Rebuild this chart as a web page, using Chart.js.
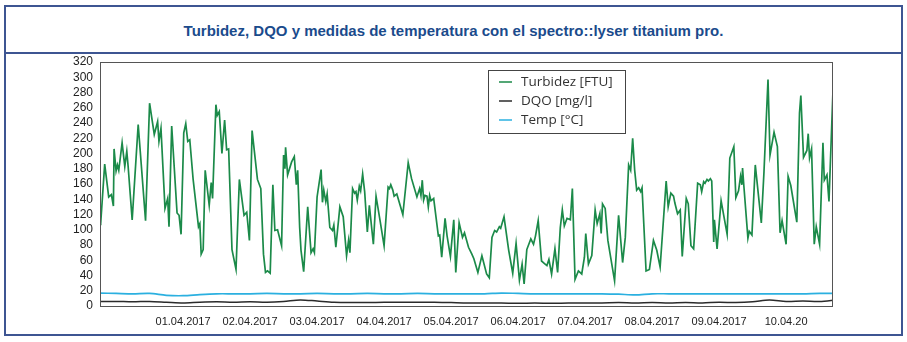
<!DOCTYPE html>
<html>
<head>
<meta charset="utf-8">
<script src="https://cdn.jsdelivr.net/npm/chart.js@4/dist/chart.umd.min.js"></script>
<style>
  body { margin: 0; background: #fff; }
  #wrap { position: relative; width: 907px; height: 342px; }
  #frame { position: absolute; left: 4px; top: 5px; width: 895px; height: 327px; border: 2px solid #3d5592; }
  #sep { position: absolute; left: 4px; top: 52px; width: 899px; height: 2px; background: #3d5592; }
  #title { position: absolute; left: 0; top: 22px; width: 907px; text-align: center;
    font: bold 15px "Liberation Sans Narrow", "Liberation Sans", Arial, sans-serif; color: #1b4b8c; }
  canvas { position: absolute; left: 0; top: 0; }
</style>
</head>
<body>
<div id="wrap">
  <div id="frame"></div>
  <div id="sep"></div>
  <div id="title">Turbidez, DQO y medidas de temperatura con el spectro::lyser titanium pro.</div>
  <canvas id="c" width="907" height="342"></canvas>
</div>
<script>
// x values are days relative to 31.03.2017 00:00
const dayTicks = [1, 2, 3, 4, 5, 6, 7, 8, 9, 10];
const dayLabels = ['01.04.2017', '02.04.2017', '03.04.2017', '04.04.2017', '05.04.2017',
  '06.04.2017', '07.04.2017', '08.04.2017', '09.04.2017', '10.04.20'];

const turbX = [-0.24, -0.23, -0.17, -0.11, -0.07, -0.04, -0.03, 0.00, 0.02, 0.04, 0.09, 0.13, 0.16, 0.18, 0.24,
  0.33, 0.44, 0.50, 0.57, 0.62, 0.64, 0.67, 0.73, 0.77, 0.79, 0.83, 0.91, 0.94, 0.97, 1.01,
  1.04, 1.07, 1.10, 1.15, 1.23, 1.25, 1.27, 1.30, 1.33, 1.39, 1.42, 1.44, 1.49, 1.51, 1.54,
  1.58, 1.62, 1.65, 1.68, 1.73, 1.79, 1.84, 1.91, 1.95, 1.99, 2.03, 2.11, 2.16, 2.20, 2.23,
  2.26, 2.30, 2.34, 2.37, 2.41, 2.47, 2.50, 2.52, 2.53, 2.56, 2.62, 2.66, 2.69, 2.71, 2.74,
  2.76, 2.80, 2.86, 2.91, 2.94, 2.96, 3.00, 3.06, 3.08, 3.10, 3.13, 3.15, 3.19, 3.23, 3.25,
  3.28, 3.34, 3.39, 3.44, 3.47, 3.49, 3.53, 3.56, 3.58, 3.60, 3.63, 3.65, 3.68, 3.71, 3.75,
  3.78, 3.84, 3.88, 3.94, 4.00, 4.06, 4.08, 4.10, 4.13, 4.15, 4.19, 4.28, 4.36, 4.41, 4.49,
  4.53, 4.55, 4.57, 4.59, 4.61, 4.64, 4.66, 4.68, 4.70, 4.74, 4.81, 4.83, 4.86, 4.91, 4.94,
  4.99, 5.04, 5.07, 5.12, 5.17, 5.20, 5.26, 5.31, 5.34, 5.40, 5.46, 5.53, 5.57, 5.61, 5.65,
  5.68, 5.72, 5.74, 5.79, 5.86, 5.92, 5.97, 6.02, 6.06, 6.09, 6.13, 6.19, 6.23, 6.26, 6.30,
  6.35, 6.39, 6.43, 6.46, 6.50, 6.55, 6.59, 6.63, 6.66, 6.69, 6.73, 6.78, 6.81, 6.85, 6.90,
  6.95, 6.99, 7.01, 7.05, 7.10, 7.15, 7.18, 7.22, 7.24, 7.26, 7.30, 7.34, 7.37, 7.44, 7.50,
  7.56, 7.60, 7.65, 7.68, 7.71, 7.74, 7.77, 7.80, 7.83, 7.85, 7.91, 7.96, 8.02, 8.07, 8.12,
  8.21, 8.24, 8.28, 8.32, 8.34, 8.38, 8.42, 8.45, 8.51, 8.54, 8.58, 8.62, 8.68, 8.72, 8.74,
  8.77, 8.79, 8.82, 8.84, 8.87, 8.89, 8.92, 8.93, 8.97, 9.03, 9.12, 9.16, 9.22, 9.25, 9.29,
  9.32, 9.34, 9.35, 9.37, 9.43, 9.45, 9.49, 9.54, 9.63, 9.67, 9.73, 9.76, 9.82, 9.87, 9.91,
  9.94, 10.00, 10.03, 10.07, 10.16, 10.20, 10.22, 10.26, 10.31, 10.33, 10.35, 10.38, 10.42, 10.45, 10.50,
  10.55, 10.57, 10.61, 10.64, 10.70];
const turbidez = [107, 108, 186, 143, 146, 131, 206, 177, 185, 178, 214, 183, 203, 183, 113,
  238, 112, 266, 225, 242, 216, 233, 128, 141, 104, 236, 122, 119, 94, 227,
  239, 216, 218, 166, 104, 108, 68, 74, 178, 132, 162, 141, 264, 250, 255,
  200, 244, 205, 206, 74, 48, 166, 119, 123, 86, 230, 166, 154, 68, 44,
  46, 43, 159, 99, 100, 79, 198, 180, 208, 172, 189, 196, 159, 178, 103,
  73, 45, 130, 70, 75, 70, 143, 179, 136, 152, 137, 147, 103, 99, 106,
  77, 130, 117, 66, 86, 70, 154, 148, 150, 139, 157, 151, 173, 150, 97,
  132, 81, 144, 112, 79, 156, 154, 159, 152, 144, 147, 120, 188, 167, 143,
  154, 145, 165, 139, 145, 144, 130, 145, 138, 141, 92, 93, 64, 115, 92,
  65, 113, 44, 109, 90, 96, 77, 68, 62, 44, 66, 42, 37, 90, 99,
  97, 104, 102, 117, 73, 43, 82, 34, 55, 29, 74, 88, 81, 92, 112,
  59, 56, 53, 61, 42, 75, 44, 103, 126, 105, 115, 113, 154, 35, 46,
  42, 64, 95, 55, 66, 126, 108, 121, 95, 134, 128, 86, 70, 33, 119,
  57, 90, 185, 178, 220, 178, 152, 155, 150, 155, 46, 48, 86, 73, 51,
  164, 130, 148, 144, 135, 121, 126, 65, 141, 134, 79, 75, 161, 159, 150,
  163, 161, 166, 164, 167, 164, 84, 113, 75, 138, 94, 194, 209, 142, 151,
  170, 159, 181, 157, 89, 98, 93, 185, 109, 176, 297, 198, 228, 209, 96,
  112, 81, 170, 158, 110, 253, 276, 195, 204, 226, 194, 206, 81, 104, 81,
  214, 165, 172, 137, 283];

// temperature and DQO read every 6 hours
const sampleX = [-0.25, 0, 0.25, 0.5, 0.75, 1, 1.25, 1.5, 1.75, 2, 2.25, 2.5, 2.75, 3, 3.25,
  3.5, 3.75, 4, 4.25, 4.5, 4.75, 5, 5.25, 5.5, 5.75, 6, 6.25, 6.5, 6.75, 7,
  7.25, 7.5, 7.75, 8, 8.25, 8.5, 8.75, 9, 9.25, 9.5, 9.75, 10, 10.25, 10.5, 10.75];
const temp = [17, 16.5, 16, 16.5, 14, 13.5, 15, 16, 16, 16, 16.5, 16, 16, 16.5, 16,
  16, 16.5, 16, 16, 16.5, 16, 16, 16, 16, 17, 16.5, 16, 16, 16, 16,
  16, 15.5, 14.5, 16, 16, 16, 16, 16, 16, 16, 16, 16, 16, 16.5, 16.5];
const dqo = [6, 6, 5.5, 6, 5, 4, 5, 5.5, 5, 5.5, 5, 6, 8, 6.5, 5,
  4.5, 4.5, 5, 5, 5, 5, 4.5, 4, 4, 4, 3.5, 4, 3.5, 4, 4,
  4, 4.5, 4, 4.5, 4, 4.5, 4, 5, 4.5, 5.5, 8, 6, 6.5, 6, 8];

const seriesNames = ['Turbidez [FTU]', 'DQO [mg/l]', 'Temp [°C]'];
const seriesColors = ['#1b8a49', '#2b2b2b', '#2bb0e0'];

const pts = (xs, ys) => xs.map((x, i) => ({ x: x, y: ys[i] }));

// legend box drawn inside the plot area
const innerLegend = {
  id: 'innerLegend',
  afterDraw(chart) {
    const ctx = chart.ctx;
    const a = chart.chartArea;
    ctx.save();
    // plot frame
    ctx.strokeStyle = '#555';
    ctx.lineWidth = 1;
    ctx.strokeRect(a.left + 0.5, a.top + 0.5, a.right - a.left - 1, a.bottom - a.top);
    const lx = 488, ly = 70, lw = 137, lh = 63;
    ctx.fillStyle = '#fff';
    ctx.fillRect(lx, ly, lw, lh);
    ctx.strokeStyle = '#444';
    ctx.strokeRect(lx + 0.5, ly + 0.5, lw, lh);
    ctx.font = '13.5px "Open Sans", "DejaVu Sans", sans-serif';
    ctx.textBaseline = 'middle';
    chart.data.datasets.forEach((ds, i) => {
      const y = ly + 12 + i * 19;
      ctx.strokeStyle = ds.borderColor;
      ctx.lineWidth = 1.5;
      ctx.beginPath();
      ctx.moveTo(lx + 11, y);
      ctx.lineTo(lx + 24, y);
      ctx.stroke();
      ctx.fillStyle = '#333';
      ctx.fillText(ds.label, lx + 33, y);
    });
    ctx.restore();
  }
};

new Chart(document.getElementById('c'), {
  type: 'line',
  data: {
    datasets: [
      { label: seriesNames[0], data: pts(turbX, turbidez), borderColor: seriesColors[0], borderWidth: 1.7 },
      { label: seriesNames[1], data: pts(sampleX, dqo), borderColor: seriesColors[1], borderWidth: 1.5, tension: 0.3 },
      { label: seriesNames[2], data: pts(sampleX, temp), borderColor: seriesColors[2], borderWidth: 1.7, tension: 0.3 }
    ]
  },
  options: {
    responsive: false,
    animation: false,
    elements: { point: { radius: 0 } },
    layout: { padding: { left: 55, right: 74, top: 62, bottom: 0 } },
    plugins: { legend: { display: false }, tooltip: { enabled: false } },
    scales: {
      x: {
        type: 'linear',
        min: -0.24,
        max: 10.70,
        grid: { display: false, drawTicks: false },
        border: { display: false },
        afterBuildTicks: s => { s.ticks = dayTicks.map(v => ({ value: v })); },
        afterFit: s => { s.height = 36; },
        ticks: {
          autoSkip: false,
          maxRotation: 0,
          padding: 9,
          color: '#222',
          font: { size: 11, family: '"Liberation Sans Narrow", "Liberation Sans", sans-serif' },
          callback: v => dayLabels[dayTicks.indexOf(v)]
        }
      },
      y: {
        min: 0,
        max: 320,
        grid: { display: false, drawTicks: false },
        border: { display: false },
        afterFit: s => { s.width = 45; },
        ticks: {
          stepSize: 20,
          autoSkip: false,
          padding: 7,
          color: '#222',
          font: { size: 12, family: '"Liberation Sans Narrow", "Liberation Sans", sans-serif' }
        }
      }
    }
  },
  plugins: [innerLegend]
});
</script>
</body>
</html>
